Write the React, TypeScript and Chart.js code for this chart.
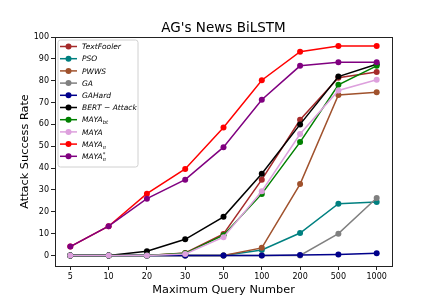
import React, { useEffect, useRef } from 'react';
import { Chart, registerables } from 'chart.js';

Chart.register(...registerables);

const queryLabels = ['5', '10', '20', '30', '50', '100', '200', '500', '1000'];
const yTickValues = [0, 10, 20, 30, 40, 50, 60, 70, 80, 90, 100];

const textFooler = [0, 0, 0, 1.2, 9.9, 34.7, 62.1, 81.4, 84.0];
const pso = [0, 0, 0, 0, 0, 2.5, 10.3, 23.7, 24.5];
const pwws = [0, 0, 0, 0, 0, 3.5, 32.7, 73.5, 74.7];
const ga = [0, 0, 0, 0, 0, 0, 0, 10.0, 26.3];
const gaHard = [0, 0, 0, 0, 0, 0, 0.2, 0.5, 1.0];
const bertAttack = [0, 0, 2.0, 7.4, 17.7, 37.4, 60.0, 81.9, 87.5];
const mayaBt = [0, 0, 0, 1.0, 9.3, 28.2, 51.9, 78.1, 86.8];
const maya = [0, 0, 0, 0.7, 8.4, 29.4, 55.6, 75.5, 80.4];
const mayaPi = [4.1, 13.4, 28.3, 39.6, 58.6, 80.2, 93.3, 95.9, 95.9];
const mayaPiStar = [4.1, 13.4, 26.0, 34.7, 49.6, 71.3, 86.8, 88.4, 88.4];

type Seg = { t: string; k: 'n' | 'sub' | 'sup' };
const seriesNames: Seg[][] = [
  [{ t: 'TextFooler', k: 'n' }],
  [{ t: 'PSO', k: 'n' }],
  [{ t: 'PWWS', k: 'n' }],
  [{ t: 'GA', k: 'n' }],
  [{ t: 'GAHard', k: 'n' }],
  [{ t: 'BERT \u2212 Attack', k: 'n' }],
  [{ t: 'MAYA', k: 'n' }, { t: 'bt', k: 'sub' }],
  [{ t: 'MAYA', k: 'n' }],
  [{ t: 'MAYA', k: 'n' }, { t: '\u03c0', k: 'sub' }],
  [{ t: 'MAYA', k: 'n' }, { t: '\u03c0', k: 'sub' }, { t: '*', k: 'sup' }],
];
const seriesValues = [textFooler, pso, pwws, ga, gaHard, bertAttack, mayaBt, maya, mayaPi, mayaPiStar];
const seriesColors = ['#a52a2a', '#008080', '#a0522d', '#808080', '#00008b', '#000000', '#008000', '#dda0dd', '#ff0000', '#800080'];

const FONT = '"DejaVu Sans", sans-serif';

const decorPlugin = {
  id: 'decor',
  afterDraw(chart: any) {
    const ctx = chart.ctx as CanvasRenderingContext2D;
    const a = chart.chartArea;
    ctx.save();
    // frame
    ctx.strokeStyle = '#222';
    ctx.lineWidth = 1;
    ctx.strokeRect(Math.round(a.left) + 0.5, Math.round(a.top) + 0.5, Math.round(a.right - a.left), Math.round(a.bottom - a.top));
    // title
    ctx.fillStyle = '#000';
    ctx.textAlign = 'center';
    ctx.textBaseline = 'alphabetic';
    ctx.font = `13.5px ${FONT}`;
    ctx.fillText("AG's News BiLSTM", (a.left + a.right) / 2, 32);
    // x label
    ctx.font = `11.3px ${FONT}`;
    ctx.fillText('Maximum Query Number', (a.left + a.right) / 2, 292.5);
    // y label
    ctx.save();
    ctx.translate(25, (a.top + a.bottom) / 2);
    ctx.rotate(-Math.PI / 2);
    ctx.textBaseline = 'middle';
    ctx.fillText('Attack Success Rate', 0, 0);
    ctx.restore();

    // legend
    const lx = a.left + 3, ly = a.top + 3, lw = 80, lh = 127;
    ctx.beginPath();
    const r = 2.5;
    ctx.moveTo(lx + r, ly);
    ctx.lineTo(lx + lw - r, ly);
    ctx.arcTo(lx + lw, ly, lx + lw, ly + r, r);
    ctx.lineTo(lx + lw, ly + lh - r);
    ctx.arcTo(lx + lw, ly + lh, lx + lw - r, ly + lh, r);
    ctx.lineTo(lx + r, ly + lh);
    ctx.arcTo(lx, ly + lh, lx, ly + lh - r, r);
    ctx.lineTo(lx, ly + r);
    ctx.arcTo(lx, ly, lx + r, ly, r);
    ctx.closePath();
    ctx.fillStyle = 'rgba(255,255,255,0.8)';
    ctx.fill();
    ctx.strokeStyle = '#d0d0d0';
    ctx.lineWidth = 1;
    ctx.stroke();

    const fs = 7.5;
    seriesNames.forEach((segs, i) => {
      const y = ly + 6.5 + i * 12.2;
      const col = seriesColors[i];
      ctx.strokeStyle = col;
      ctx.lineWidth = 1.5;
      ctx.beginPath();
      ctx.moveTo(lx + 2, y);
      ctx.lineTo(lx + 19, y);
      ctx.stroke();
      ctx.fillStyle = col;
      ctx.beginPath();
      ctx.arc(lx + 10.5, y, 3, 0, Math.PI * 2);
      ctx.fill();
      ctx.fillStyle = '#000';
      ctx.textAlign = 'left';
      ctx.textBaseline = 'alphabetic';
      let x = lx + 24;
      const base = y + fs * 0.36;
      let subEnd = x;
      segs.forEach((s) => {
        if (s.k === 'n') {
          ctx.font = `italic ${fs}px ${FONT}`;
          ctx.fillText(s.t, x, base);
          x += ctx.measureText(s.t).width;
          subEnd = x;
        } else if (s.k === 'sub') {
          ctx.font = `italic ${fs * 0.7}px ${FONT}`;
          ctx.fillText(s.t, x, base + 2);
          subEnd = x + ctx.measureText(s.t).width;
        } else {
          ctx.font = `italic ${fs * 0.7}px ${FONT}`;
          ctx.fillText(s.t, x, base - 3.5);
        }
      });
      void subEnd;
    });
    ctx.restore();
  },
};

export default function App() {
  const ref = useRef<HTMLCanvasElement | null>(null);
  useEffect(() => {
    document.body.style.margin = '0';
    const n = seriesValues.length;
    const chart = new Chart(ref.current as HTMLCanvasElement, {
      type: 'line',
      data: {
        datasets: seriesValues.map((vals, i) => ({
          label: seriesNames[i].map((s) => s.t).join(''),
          data: vals.map((v, j) => ({ x: j, y: v })),
          borderColor: seriesColors[i],
          backgroundColor: seriesColors[i],
          pointBackgroundColor: seriesColors[i],
          pointBorderColor: seriesColors[i],
          pointRadius: 3,
          pointBorderWidth: 0,
          borderWidth: 1.5,
          fill: false,
          tension: 0,
          order: n - i,
        })),
      },
      options: {
        responsive: false,
        animation: false,
        events: [],
        layout: { padding: { top: 37, right: 44, left: 0, bottom: 0 } },
        plugins: { legend: { display: false }, tooltip: { enabled: false }, title: { display: false } },
        scales: {
          x: {
            type: 'linear',
            min: -0.4,
            max: 8.4,
            afterBuildTicks: (scale: any) => {
              scale.ticks = queryLabels.map((_, i) => ({ value: i }));
            },
            afterFit: (scale: any) => {
              scale.height = 34;
            },
            ticks: {
              callback: (v: any) => queryLabels[v as number] ?? '',
              font: { family: FONT, size: 8 },
              color: '#000',
              padding: 2,
              maxRotation: 0,
              autoSkip: false,
            },
            grid: { drawOnChartArea: false, drawTicks: true, tickLength: 4, color: '#222' },
            border: { display: true, color: '#222' },
          },
          y: {
            type: 'linear',
            min: -4.8,
            max: 100,
            afterBuildTicks: (scale: any) => {
              scale.ticks = yTickValues.map((v) => ({ value: v }));
            },
            afterFit: (scale: any) => {
              scale.width = 55;
            },
            ticks: {
              font: { family: FONT, size: 8 },
              color: '#000',
              padding: 2,
            },
            grid: { drawOnChartArea: false, drawTicks: true, tickLength: 4, color: '#222' },
            border: { display: true, color: '#222' },
          },
        },
      },
      plugins: [decorPlugin],
    } as any);
    return () => chart.destroy();
  }, []);
  return (
    <div style={{ width: 436, height: 300 }}>
      <canvas ref={ref} width={436} height={300} style={{ display: 'block', width: 436, height: 300 }} />
    </div>
  );
}
